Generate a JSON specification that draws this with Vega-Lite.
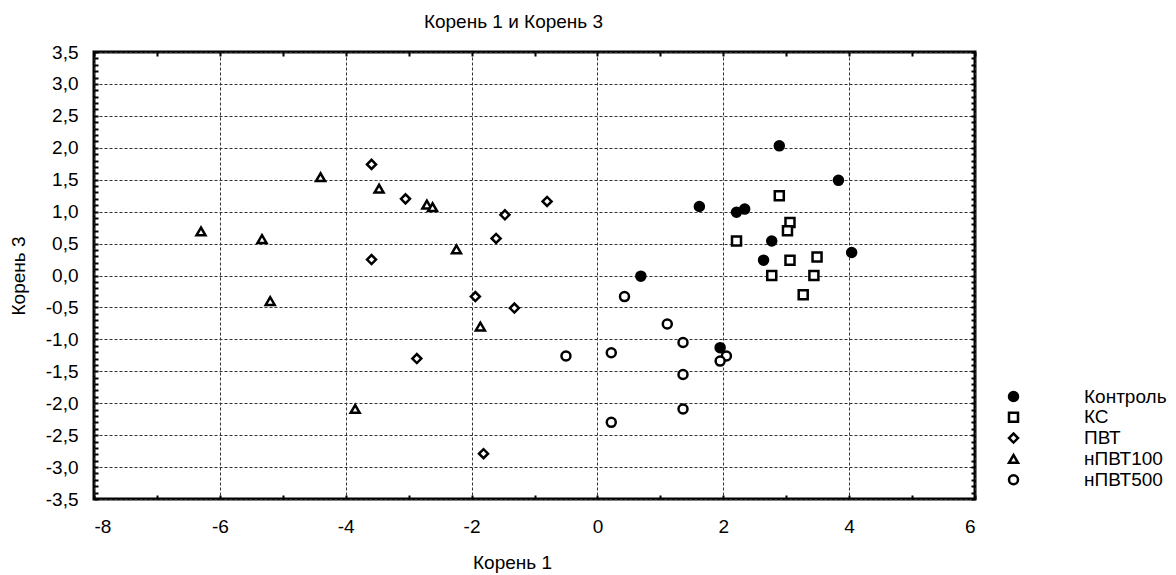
{
  "$schema": "https://vega.github.io/schema/vega-lite/v6.json",
  "autosize": {"type": "none"},
  "padding": {"left": 94, "top": 52, "right": 201, "bottom": 76},
  "width": 881,
  "height": 447,
  "background": "white",
  "config": {
    "font": "Liberation Sans",
    "view": {"stroke": "black", "strokeWidth": 3},
    "axis": {"labelFont": "Liberation Sans", "titleFont": "Liberation Sans", "labelFontSize": 19, "titleFontSize": 19, "titleFontWeight": "normal", "labelColor": "black", "titleColor": "black", "domain": false, "tickColor": "black", "tickWidth": 2}
  },
  "title": {"text": "Корень 1 и Корень 3", "fontSize": 19, "fontWeight": "normal", "font": "Liberation Sans", "color": "black", "anchor": "middle", "dx": -21, "offset": 11},
  "data": {"values": [
    {"g": "Контроль", "x": 1.62, "y": 1.08},
    {"g": "Контроль", "x": 2.21, "y": 0.99},
    {"g": "Контроль", "x": 2.34, "y": 1.04},
    {"g": "Контроль", "x": 2.89, "y": 2.03},
    {"g": "Контроль", "x": 3.83, "y": 1.49},
    {"g": "Контроль", "x": 2.77, "y": 0.54},
    {"g": "Контроль", "x": 2.64, "y": 0.24},
    {"g": "Контроль", "x": 4.04, "y": 0.36},
    {"g": "Контроль", "x": 0.69, "y": -0.01},
    {"g": "Контроль", "x": 1.95, "y": -1.13},
    {"g": "КС", "x": 2.89, "y": 1.25},
    {"g": "КС", "x": 3.06, "y": 0.83},
    {"g": "КС", "x": 3.02, "y": 0.70},
    {"g": "КС", "x": 2.21, "y": 0.54},
    {"g": "КС", "x": 3.06, "y": 0.24},
    {"g": "КС", "x": 3.49, "y": 0.29},
    {"g": "КС", "x": 2.77, "y": 0.0},
    {"g": "КС", "x": 3.44, "y": 0.0},
    {"g": "КС", "x": 3.27, "y": -0.30},
    {"g": "ПВТ", "x": -3.59, "y": 1.74},
    {"g": "ПВТ", "x": -3.05, "y": 1.20},
    {"g": "ПВТ", "x": -1.47, "y": 0.95},
    {"g": "ПВТ", "x": -1.61, "y": 0.58},
    {"g": "ПВТ", "x": -3.59, "y": 0.25},
    {"g": "ПВТ", "x": -1.94, "y": -0.33},
    {"g": "ПВТ", "x": -1.32, "y": -0.51},
    {"g": "ПВТ", "x": -2.87, "y": -1.30},
    {"g": "ПВТ", "x": -1.81, "y": -2.79},
    {"g": "ПВТ", "x": -0.80, "y": 1.16},
    {"g": "нПВТ100", "x": -4.40, "y": 1.54},
    {"g": "нПВТ100", "x": -3.47, "y": 1.36},
    {"g": "нПВТ100", "x": -2.71, "y": 1.11},
    {"g": "нПВТ100", "x": -2.62, "y": 1.07},
    {"g": "нПВТ100", "x": -6.30, "y": 0.69},
    {"g": "нПВТ100", "x": -5.33, "y": 0.57},
    {"g": "нПВТ100", "x": -2.24, "y": 0.41},
    {"g": "нПВТ100", "x": -5.20, "y": -0.40},
    {"g": "нПВТ100", "x": -1.86, "y": -0.80},
    {"g": "нПВТ100", "x": -3.85, "y": -2.09},
    {"g": "нПВТ500", "x": 0.43, "y": -0.33},
    {"g": "нПВТ500", "x": 1.11, "y": -0.76},
    {"g": "нПВТ500", "x": 1.36, "y": -1.05},
    {"g": "нПВТ500", "x": 2.05, "y": -1.26},
    {"g": "нПВТ500", "x": 1.95, "y": -1.34},
    {"g": "нПВТ500", "x": -0.50, "y": -1.26},
    {"g": "нПВТ500", "x": 0.22, "y": -1.21},
    {"g": "нПВТ500", "x": 1.36, "y": -1.55},
    {"g": "нПВТ500", "x": 1.36, "y": -2.09},
    {"g": "нПВТ500", "x": 0.22, "y": -2.30}
  ]},
  "layer": [
    {
      "mark": {"type": "point", "filled": false, "opacity": 0},
      "encoding": {
        "x": {"field": "x", "type": "quantitative", "scale": {"domain": [-8, 6], "nice": false, "zero": false},
          "axis": {"orient": "top", "title": null, "labels": false, "grid": false, "values": [-8,-7,-6,-5,-4,-3,-2,-1,0,1,2,3,4,5,6], "tickSize": -4}},
        "y": {"field": "y", "type": "quantitative", "scale": {"domain": [-3.5, 3.5], "nice": false, "zero": false},
          "axis": {"orient": "right", "title": null, "labels": false, "grid": false, "tickSize": -4,
            "values": [-3.5,-3.4,-3.3,-3.2,-3.1,-3.0,-2.9,-2.8,-2.7,-2.6,-2.5,-2.4,-2.3,-2.2,-2.1,-2.0,-1.9,-1.8,-1.7,-1.6,-1.5,-1.4,-1.3,-1.2,-1.1,-1.0,-0.9,-0.8,-0.7,-0.6,-0.5,-0.4,-0.3,-0.2,-0.1,0,0.1,0.2,0.3,0.4,0.5,0.6,0.7,0.8,0.9,1.0,1.1,1.2,1.3,1.4,1.5,1.6,1.7,1.8,1.9,2.0,2.1,2.2,2.3,2.4,2.5,2.6,2.7,2.8,2.9,3.0,3.1,3.2,3.3,3.4,3.5]}}
      }
    },
    {
      "mark": {"type": "point", "strokeWidth": 2.5, "opacity": 1},
      "encoding": {
        "x": {"field": "x", "type": "quantitative", "scale": {"domain": [-8, 6], "nice": false, "zero": false},
          "axis": {"orient": "bottom", "title": "Корень 1", "values": [-8,-7,-6,-5,-4,-3,-2,-1,0,1,2,3,4,5,6], "tickSize": -4, "labelPadding": 22, "titlePadding": 17, "titleX": 418,
            "labelExpr": "datum.value % 2 == 0 ? (datum.value < 0 ? '-' : '') + abs(datum.value) : ''",
            "grid": true, "gridColor": "#333", "gridDash": [3, 2], "gridWidth": 1,
            "gridOpacity": {"condition": {"test": "datum.value % 2 == 0", "value": 1}, "value": 0}}},
        "y": {"field": "y", "type": "quantitative", "scale": {"domain": [-3.5, 3.5], "nice": false, "zero": false},
          "axis": {"orient": "left", "title": "Корень 3", "tickSize": -4, "labelPadding": 20, "titlePadding": 17,
            "values": [-3.5,-3.4,-3.3,-3.2,-3.1,-3.0,-2.9,-2.8,-2.7,-2.6,-2.5,-2.4,-2.3,-2.2,-2.1,-2.0,-1.9,-1.8,-1.7,-1.6,-1.5,-1.4,-1.3,-1.2,-1.1,-1.0,-0.9,-0.8,-0.7,-0.6,-0.5,-0.4,-0.3,-0.2,-0.1,0,0.1,0.2,0.3,0.4,0.5,0.6,0.7,0.8,0.9,1.0,1.1,1.2,1.3,1.4,1.5,1.6,1.7,1.8,1.9,2.0,2.1,2.2,2.3,2.4,2.5,2.6,2.7,2.8,2.9,3.0,3.1,3.2,3.3,3.4,3.5],
            "labelExpr": "abs(datum.value * 2 - round(datum.value * 2)) < 0.001 ? (datum.value < -0.01 ? '-' : '') + replace(format(abs(datum.value), '.1f'), '.', ',') : ''",
            "grid": true, "gridColor": "#333", "gridDash": [3, 2], "gridWidth": 1,
            "gridOpacity": {"condition": {"test": "abs(datum.value * 2 - round(datum.value * 2)) < 0.001", "value": 1}, "value": 0}}},
        "shape": {"field": "g", "type": "nominal", "scale": {"domain": ["Контроль", "КС", "ПВТ", "нПВТ100", "нПВТ500"], "range": ["circle", "square", "diamond", "triangle-up", "circle"]},
          "legend": {"title": null, "orient": "none", "legendX": 910, "legendY": 335, "padding": 0, "labelOffset": 61, "rowPadding": 0.8, "labelFontSize": 19, "labelFont": "Liberation Sans", "labelColor": "black", "symbolStrokeWidth": 2.5, "symbolStrokeColor": "black"}},
        "fill": {"field": "g", "type": "nominal", "scale": {"domain": ["Контроль", "КС", "ПВТ", "нПВТ100", "нПВТ500"], "range": ["black", "white", "white", "white", "white"]}},
        "size": {"field": "g", "type": "nominal", "scale": {"domain": ["Контроль", "КС", "ПВТ", "нПВТ100", "нПВТ500"], "range": [81, 81, 49, 100, 81]}},
        "stroke": {"value": "black"}
      }
    }
  ],
  "resolve": {"scale": {"x": "independent", "y": "independent"}}
}
